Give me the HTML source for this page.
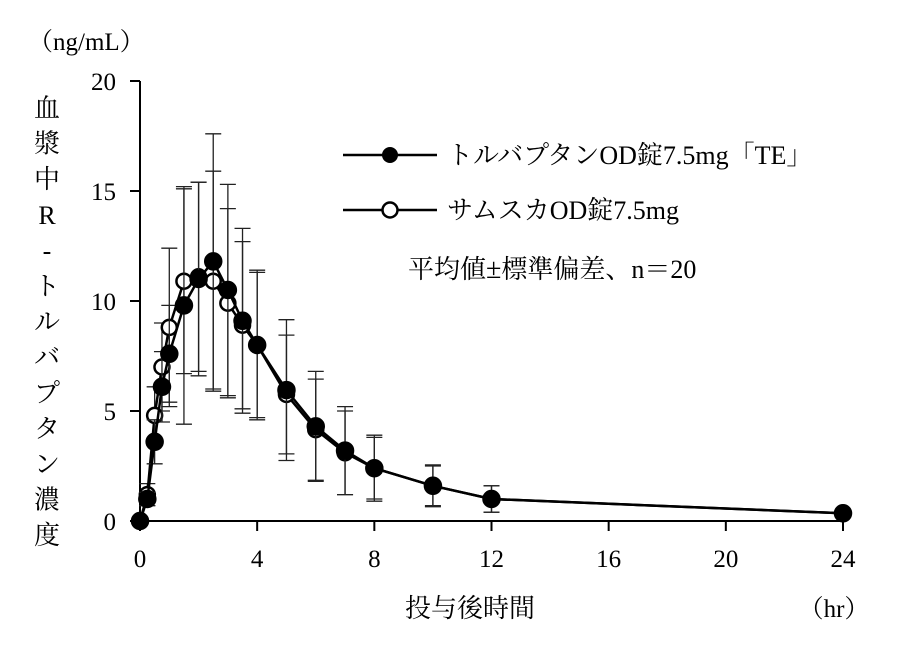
<!DOCTYPE html>
<html><head><meta charset="utf-8"><style>
body{margin:0;background:#fff}
svg text{font-family:"Liberation Serif","Noto Serif CJK SC",serif;fill:#000}
</style></head><body>
<svg id="c" width="917" height="640">
<text x="28" y="50" font-size="25">（ng/mL）</text>
<g id="ytitle"></g>
<text x="470" y="617" font-size="26" text-anchor="middle">投与後時間</text>
<text x="834" y="617" font-size="25" text-anchor="middle">（hr）</text>
<g id="axes"></g><g id="series"></g>
<g>
<line x1="343" y1="155" x2="437" y2="155" stroke="#000" stroke-width="2.5"/>
<circle cx="390" cy="155" r="8" fill="#000"/>
<text x="447" y="164" font-size="26">トルバプタンOD錠7.5mg「TE」</text>
<line x1="343" y1="210" x2="437" y2="210" stroke="#000" stroke-width="2.5"/>
<circle cx="390" cy="210" r="7.5" fill="#fff" stroke="#000" stroke-width="2.5"/>
<text x="447" y="219" font-size="26">サムスカOD錠7.5mg</text>
<text x="408" y="278" font-size="26">平均値<tspan font-size="28">±</tspan>標準偏差、n＝20</text>
</g>
</svg>
<script>
const times=[0,0.25,0.5,0.75,1,1.5,2,2.5,3,3.5,4,5,6,7,8,10,12,24];
const teMean=[0,1.0,3.6,6.1,7.6,9.8,11.0,11.8,10.5,9.1,8.0,5.95,4.3,3.2,2.4,1.6,1.0,0.35];
const teSD=[0,0.3,1.0,1.6,2.2,5.4,4.4,5.8,4.8,4.2,3.4,3.2,2.5,2.0,1.5,0.95,0.6,0.1];
const saMean=[0,1.2,4.8,7.0,8.8,10.9,11.1,10.9,9.9,8.9,8.0,5.75,4.15,3.1,2.4,1.6,1.0,0.35];
const saSD=[0,0.5,1.3,2.0,3.6,4.2,4.3,5.0,4.3,3.8,3.3,2.7,2.3,1.9,1.4,0.9,0.6,0.1];
const xTicks=[0,4,8,12,16,20,24];
const yTicks=[0,5,10,15,20];
const yTitle=["血","漿","中","R","-","ト","ル","バ","プ","タ","ン","濃","度"];
const NS="http://www.w3.org/2000/svg";
const X=t=>140+t*(703/24), Y=v=>521-v*22;
function mk(p,tag,a){const e=document.createElementNS(NS,tag);for(const k in a)e.setAttribute(k,a[k]);p.appendChild(e);return e;}
const ax=document.getElementById('axes'), sg=document.getElementById('series'), yt=document.getElementById('ytitle');
yTitle.forEach((ch,i)=>{const t=mk(yt,'text',{x:47,y:117+i*35.6,'font-size':26,'text-anchor':'middle'});t.textContent=ch;

});
mk(ax,'line',{x1:140,y1:Y(20),x2:140,y2:521,stroke:'#000','stroke-width':2});
mk(ax,'line',{x1:139,y1:521,x2:843,y2:521,stroke:'#000','stroke-width':2});
yTicks.forEach(v=>{mk(ax,'line',{x1:130,y1:Y(v),x2:140,y2:Y(v),stroke:'#000','stroke-width':2});
const t=mk(ax,'text',{x:116,y:Y(v)+9,'font-size':25,'text-anchor':'end'});t.textContent=v;

});
xTicks.forEach(v=>{mk(ax,'line',{x1:X(v),y1:521,x2:X(v),y2:531,stroke:'#000','stroke-width':2});
const t=mk(ax,'text',{x:X(v),y:567,'font-size':25,'text-anchor':'middle'});t.textContent=v;

});
function draw(mean,sd,filled,name){
 const g=mk(sg,'g',{});
 
 
 times.forEach((t,i)=>{if(!sd[i])return;const x=X(t),a=Y(mean[i]+sd[i]),b=Y(Math.max(0,mean[i]-sd[i]));
  mk(g,'line',{x1:x,y1:a,x2:x,y2:b,stroke:'#222','stroke-width':1.3});
  mk(g,'line',{x1:x-8,y1:a,x2:x+8,y2:a,stroke:'#222','stroke-width':1.3});
  mk(g,'line',{x1:x-8,y1:b,x2:x+8,y2:b,stroke:'#222','stroke-width':1.3});});
 mk(g,'polyline',{points:times.map((t,i)=>X(t)+','+Y(mean[i])).join(' '),fill:'none',stroke:'#000','stroke-width':2.5});
 times.forEach((t,i)=>{const c=mk(g,'circle',{cx:X(t),cy:Y(mean[i]),r:filled?8:7.5,fill:filled?'#000':'#fff',stroke:'#000','stroke-width':2.5});
  
  });
}
draw(saMean,saSD,false,'series-samsca');
draw(teMean,teSD,true,'series-te');
</script>
</body></html>
